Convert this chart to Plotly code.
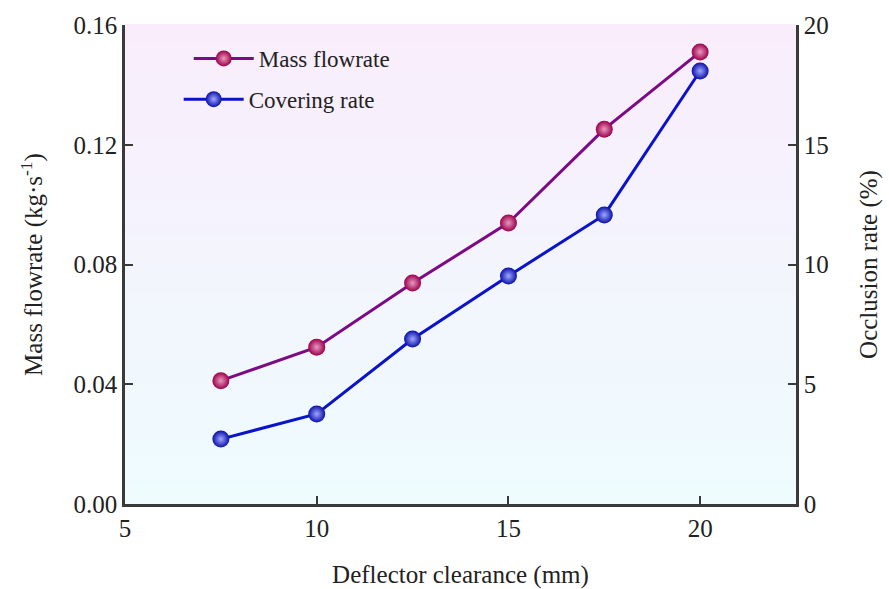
import plotly.graph_objects as go

# Data
clearance = [7.5, 10, 12.5, 15, 17.5, 20]
mass_flowrate = [0.0412, 0.0524, 0.0738, 0.0939, 0.1252, 0.1510]
covering_rate = [2.71, 3.76, 6.89, 9.52, 12.07, 18.08]

x_ticks = [5, 10, 15, 20]
y1_ticks = [0.00, 0.04, 0.08, 0.12, 0.16]
y1_labels = ["0.00", "0.04", "0.08", "0.12", "0.16"]
y2_ticks = [0, 5, 10, 15, 20]

FONT = "Liberation Serif"
AXIS_COLOR = "#3a3a3a"

fig = go.Figure()

# Vertical gradient background inside the plotting area (pink top -> cyan bottom)
top_rgb = (249, 237, 252)
bot_rgb = (238, 252, 254)
n_bands = 80
for i in range(n_bands):
    t = i / (n_bands - 1)
    r = round(bot_rgb[0] + (top_rgb[0] - bot_rgb[0]) * t)
    g = round(bot_rgb[1] + (top_rgb[1] - bot_rgb[1]) * t)
    b = round(bot_rgb[2] + (top_rgb[2] - bot_rgb[2]) * t)
    fig.add_shape(
        type="rect", xref="x domain", yref="y domain",
        x0=0, x1=1, y0=i / n_bands, y1=(i + 1) / n_bands + 0.002,
        fillcolor=f"rgb({r},{g},{b})", line_width=0, layer="below",
    )

fig.add_trace(go.Scatter(
    x=clearance, y=mass_flowrate, name="Mass flowrate",
    mode="lines+markers", yaxis="y", legend="legend",
    line=dict(color="#7d0a85", width=3),
    marker=dict(size=17, color="#9c004c", symbol="circle",
                gradient=dict(type="radial", color="#e899bd"),
                line=dict(width=0)),
))

fig.add_trace(go.Scatter(
    x=clearance, y=covering_rate, name="Covering rate",
    mode="lines+markers", yaxis="y2", legend="legend2",
    line=dict(color="#0a12cc", width=3),
    marker=dict(size=17, color="#0a0fa8", symbol="circle",
                gradient=dict(type="radial", color="#9fa8ff"),
                line=dict(width=0)),
))

tick_font = dict(family=FONT, size=25, color="#222222")
title_font = dict(family=FONT, size=25, color="#222222")

fig.update_layout(
    width=889, height=589,
    margin=dict(l=125, r=93, t=25, b=85),
    paper_bgcolor="white", plot_bgcolor="rgba(0,0,0,0)",
    xaxis=dict(
        range=[5, 22.5], tickvals=x_ticks, ticks="inside", ticklen=8,
        tickwidth=2, tickcolor=AXIS_COLOR, showline=True, linecolor=AXIS_COLOR,
        linewidth=2.5, showgrid=False, zeroline=False, tickfont=tick_font,
        automargin=False,
        title=dict(text="Deflector clearance (mm)", font=title_font, standoff=28),
    ),
    yaxis=dict(
        range=[0, 0.16], tickvals=y1_ticks, ticktext=y1_labels, ticks="inside",
        ticklen=8, tickwidth=2, tickcolor=AXIS_COLOR, showline=True,
        linecolor=AXIS_COLOR, linewidth=2.5, showgrid=False, zeroline=False,
        tickfont=tick_font, automargin=False,
        title=dict(text="Mass flowrate (kg·s<sup>-1</sup>)", font=title_font, standoff=24),
    ),
    yaxis2=dict(
        range=[0, 20], tickvals=y2_ticks, ticks="inside", ticklen=8,
        tickwidth=2, tickcolor=AXIS_COLOR, showline=True, linecolor=AXIS_COLOR,
        linewidth=2.5, showgrid=False, zeroline=False, overlaying="y",
        side="right", tickfont=tick_font, automargin=False,
        title=dict(text="Occlusion rate (%)", font=title_font, standoff=32),
    ),
    legend=dict(
        x=0.095, y=0.975, xanchor="left", yanchor="top",
        bgcolor="rgba(0,0,0,0)", itemwidth=60,
        font=dict(family=FONT, size=23, color="#222222"),
    ),
    legend2=dict(
        x=0.08, y=0.89, xanchor="left", yanchor="top",
        bgcolor="rgba(0,0,0,0)", itemwidth=60,
        font=dict(family=FONT, size=23, color="#222222"),
    ),
    showlegend=True,
)

fig.write_html("out.html")
